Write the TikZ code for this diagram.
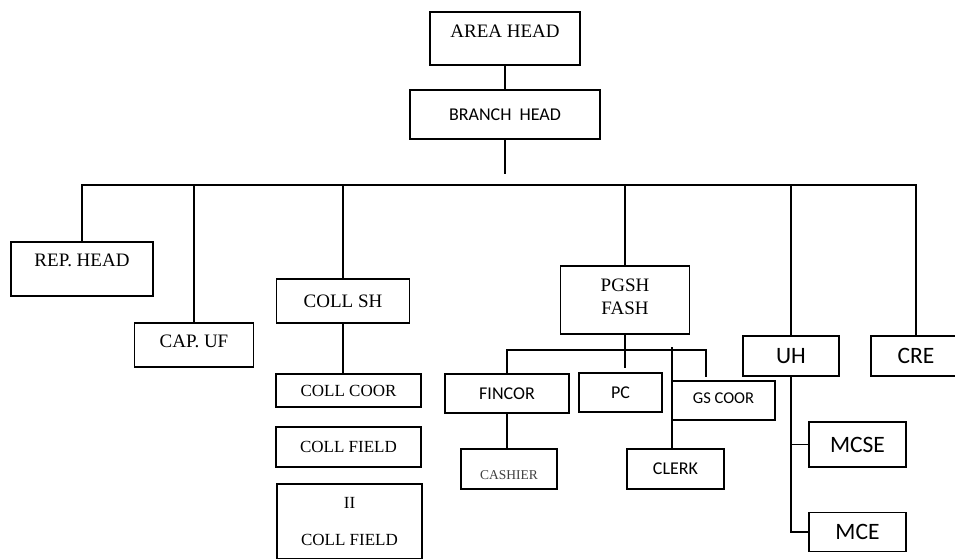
\documentclass[tikz,border=0pt]{standalone}
\usepackage{fontspec}
\setmainfont{Liberation Serif}
\newfontfamily\cali{Carlito}
\begin{document}
\begin{tikzpicture}[x=1pt,y=-1pt,line width=1.5pt,
    box/.style={draw,rectangle,inner sep=0pt},
    tnr/.style={font=\fontsize{19}{23}\selectfont},
    tnrs/.style={font=\fontsize{17}{20}\selectfont},
    cal/.style={font=\cali\fontsize{18}{22}\selectfont},
    calb/.style={font=\cali\fontsize{23.5}{28}\selectfont}]
  \clip (0,0) rectangle (955,558);
  \node[box,minimum width=150,minimum height=53,label={[tnr,yshift=7.5pt]center:AREA HEAD}] (area) at (505,38.5) {};
  \node[box,cal,minimum width=190,minimum height=49] (branch) at (505,114.5) {BRANCH\ \ HEAD};
  \node[box,minimum width=142,minimum height=54,label={[tnr,yshift=9pt]center:REP. HEAD}] (rep) at (82,269) {};
  \node[box,minimum width=119,minimum height=44,label={[tnr,yshift=4pt]center:CAP. UF}] (cap) at (194,345) {};
  \node[box,tnr,minimum width=133,minimum height=44] (collsh) at (343,301) {COLL SH};
  \node[box,tnrs,minimum width=145,minimum height=33] (collcoor) at (348.5,390.5) {COLL COOR};
  \node[box,tnrs,minimum width=145,minimum height=40] (collfield) at (348.5,447) {COLL FIELD};
  \node[box,tnrs,align=center,minimum width=145,minimum height=75] (collfield2) at (349.5,521.5) {II\\[17pt]COLL FIELD};
  \node[box,minimum width=129,minimum height=68,label={[tnr,align=center,yshift=3.5pt]center:PGSH\\FASH}] (pgsh) at (625,300) {};
  \node[box,cal,minimum width=124,minimum height=39] (fincor) at (507,393.5) {FINCOR};
  \node[box,cal,minimum width=83,minimum height=39] (pc) at (620.5,392.5) {PC};
  \node[box,minimum width=103,minimum height=39,label={[cal,font=\cali\fontsize{16.5}{20}\selectfont,yshift=2pt]center:GS COOR}] (gscoor) at (723.5,400.5) {};
  \node[box,minimum width=96,minimum height=40,label={[font=\fontsize{13.5}{16}\selectfont,text=black!75,yshift=-6pt]center:CASHIER}] (cashier) at (509,469) {};
  \node[box,cal,minimum width=97,minimum height=40] (clerk) at (675.5,469) {CLERK};
  \node[box,calb,minimum width=96,minimum height=40] (uh) at (791,356) {UH};
  \node[box,calb,minimum width=90,minimum height=40] (cre) at (916,356) {CRE};
  \node[box,calb,minimum width=97,minimum height=45] (mcse) at (857.5,444.5) {MCSE};
  \node[box,calb,minimum width=97,minimum height=39] (mce) at (857.5,532) {MCE};
  \coordinate (bar) at (82,185);
  \coordinate (subbar) at (625,350);
  \coordinate (gsdrop) at (706,377);
  \coordinate (clerktop) at (672,347);
  \draw (area) -- (branch);
  \draw (branch.south) -- ++(0,34);
  \draw (rep.north) -- (rep.north |- bar) -- (cre.north |- bar) -- (cre.north);
  \foreach \n in {cap,collsh,pgsh,uh}
    \draw (\n.north) -- (\n.north |- bar);
  \draw (collsh.south) -- (collsh.south |- collcoor.north);
  \draw (pgsh.south) -- (pgsh.south |- 0,368);
  \draw (fincor.north) |- (subbar) -| (gsdrop);
  \draw (clerk.north -| clerktop) -- (clerktop);
  \draw (fincor.south) -- (fincor.south |- cashier.north);
  \draw (uh.south) |- (mce.west);
  \draw (mcse.west) -- (mcse.west -| uh.south);
\end{tikzpicture}
\end{document}
